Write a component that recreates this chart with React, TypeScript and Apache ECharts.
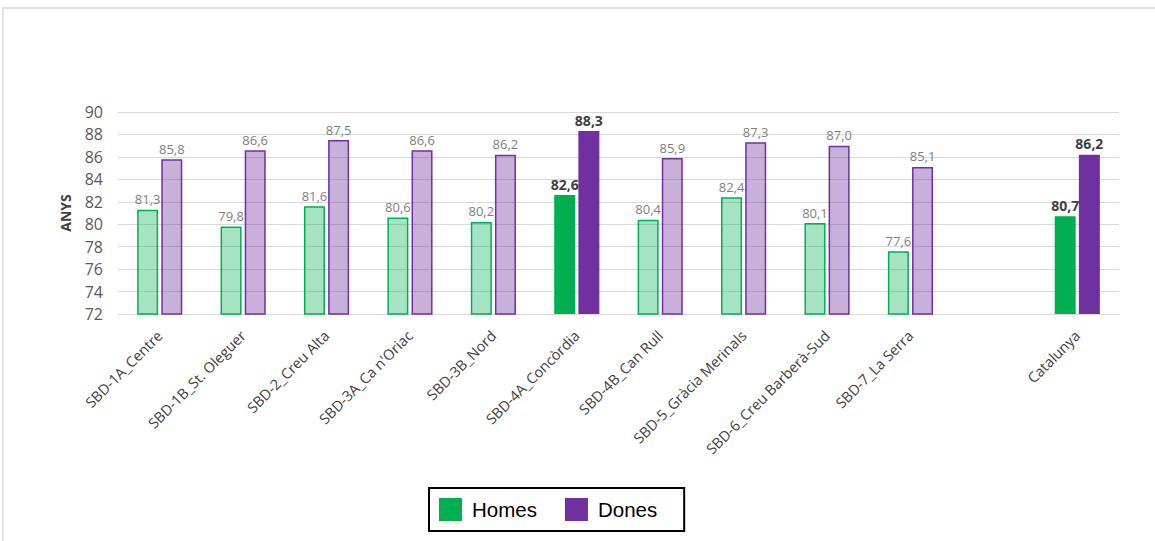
import React, { useEffect, useRef } from "react";
import * as echarts from "echarts";

const categories = [
  "SBD-1A_Centre",
  "SBD-1B_St. Oleguer",
  "SBD-2_Creu Alta",
  "SBD-3A_Ca n'Oriac",
  "SBD-3B_Nord",
  "SBD-4A_Concòrdia",
  "SBD-4B_Can Rull",
  "SBD-5_Gràcia Merinals",
  "SBD-6_Creu Barberà-Sud",
  "SBD-7_La Serra",
  "",
  "Catalunya",
];
const homes: (number | null)[] = [81.3, 79.8, 81.6, 80.6, 80.2, 82.6, 80.4, 82.4, 80.1, 77.6, null, 80.7];
const dones: (number | null)[] = [85.8, 86.6, 87.5, 86.6, 86.2, 88.3, 85.9, 87.3, 87.0, 85.1, null, 86.2];
const highlighted = [5, 11];
const yTicks = { min: 72, max: 90, interval: 2 };

const GREEN = "#00b050";
const PURPLE = "#7030a0";
const GREEN_LIGHT = "rgba(0,176,80,0.35)";
const PURPLE_LIGHT = "rgba(112,48,160,0.38)";

const fmt = (v: number) => v.toFixed(1).replace(".", ",");

function buildData(values: (number | null)[], solid: string, light: string) {
  return values.map((v, i) => {
    if (v === null) return "-";
    const hi = highlighted.includes(i);
    return {
      value: v,
      itemStyle: hi
        ? { color: solid, borderColor: solid, borderWidth: 0 }
        : { color: light, borderColor: solid, borderWidth: 1.5 },
      label: hi
        ? { fontWeight: "bold", color: "#404040", fontSize: 14 }
        : { fontWeight: "normal", color: "#7f7f7f", fontSize: 13 },
    };
  });
}

export default function App() {
  const ref = useRef<HTMLDivElement>(null);
  useEffect(() => {
    document.body.style.margin = "0";
    if (!ref.current) return;
    const chart = echarts.init(ref.current, undefined, { renderer: "svg" });
    const labelCommon = {
      show: true,
      position: "top",
      distance: 4,
      fontFamily: "Open Sans",
      formatter: (p: any) => fmt(p.value),
    };
    chart.setOption({
      animation: false,
      backgroundColor: "#ffffff",
      textStyle: { fontFamily: "Open Sans" },
      graphic: [
        {
          type: "rect",
          shape: { x: 3, y: 8, width: 1170, height: 600 },
          style: { fill: "none", stroke: "#d9d9d9", lineWidth: 1.5 },
          silent: true,
        },
      ],
      grid: { left: 118, right: 36, top: 112, bottom: 227, containLabel: false },
      legend: {
        left: 429,
        top: 488,
        orient: "horizontal",
        data: ["Homes", "Dones"],
        icon: "rect",
        itemWidth: 23,
        itemHeight: 23,
        itemGap: 28,
        borderColor: "#000000",
        borderWidth: 2,
        borderRadius: 0,
        padding: [10, 27, 10, 10],
        textStyle: {
          fontFamily: "Liberation Sans",
          fontSize: 20.5,
          color: "#000000",
          padding: [0, 0, 0, 5],
        },
      },
      xAxis: {
        type: "category",
        data: categories,
        axisLine: { show: true, lineStyle: { color: "#d9d9d9", width: 1 } },
        axisTick: { show: false },
        axisLabel: {
          rotate: 45,
          interval: 0,
          margin: 19,
          fontSize: 14.5,
          color: "#404040",
          fontFamily: "Open Sans",
        },
      },
      yAxis: {
        type: "value",
        min: yTicks.min,
        max: yTicks.max,
        interval: yTicks.interval,
        name: "ANYS",
        nameLocation: "middle",
        nameGap: 46,
        nameRotate: 90,
        nameTextStyle: { fontSize: 14, fontWeight: "bold", color: "#404040", fontFamily: "Open Sans" },
        axisLine: { show: false },
        axisTick: { show: false },
        axisLabel: { fontSize: 16, color: "#595959", margin: 15, fontFamily: "Open Sans" },
        splitLine: { lineStyle: { color: "#d9d9d9", width: 1 } },
      },
      series: [
        {
          name: "Homes",
          type: "bar",
          barWidth: 21,
          barGap: "15%",
          itemStyle: { color: GREEN },
          label: labelCommon,
          data: buildData(homes, GREEN, GREEN_LIGHT),
        },
        {
          name: "Dones",
          type: "bar",
          barWidth: 21,
          barGap: "15%",
          itemStyle: { color: PURPLE },
          label: labelCommon,
          data: buildData(dones, PURPLE, PURPLE_LIGHT),
        },
      ],
    });
    return () => chart.dispose();
  }, []);
  return <div ref={ref} style={{ width: 1155, height: 541 }} />;
}
